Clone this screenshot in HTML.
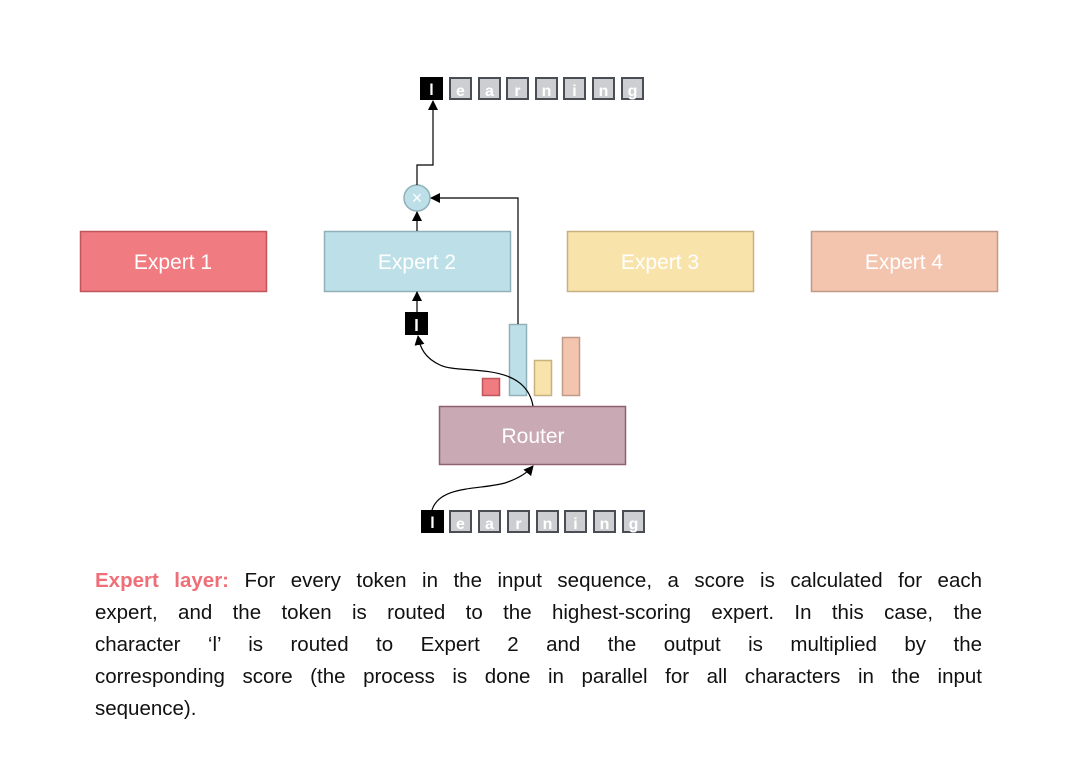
<!DOCTYPE html>
<html><head><meta charset="utf-8"><style>
body{margin:0;width:1072px;height:784px;background:#fff;position:relative;font-family:"Liberation Sans",sans-serif;overflow:hidden}
.p{position:absolute;left:95px;width:887px;font-size:20.5px;color:#111;white-space:nowrap;text-align:justify;text-align-last:justify;line-height:32px}
</style></head><body>
<svg width="1072" height="784" style="position:absolute;left:0;top:0" font-family="Liberation Sans, sans-serif">
<defs><marker id="a" markerWidth="10" markerHeight="10" refX="9" refY="5" orient="auto" markerUnits="userSpaceOnUse"><path d="M0,0 L10,5 L0,10z" fill="#000"/></marker></defs>
<rect x="80.5" y="231.5" width="186" height="60" fill="#f07b80" stroke="#c0555c" stroke-width="1.5"/>
<text x="173" y="269" text-anchor="middle" fill="#fff" font-size="21">Expert 1</text>
<rect x="324.5" y="231.5" width="186" height="60" fill="#bde0e8" stroke="#8fb0b8" stroke-width="1.5"/>
<text x="417" y="269" text-anchor="middle" fill="#fff" font-size="21">Expert 2</text>
<rect x="567.5" y="231.5" width="186" height="60" fill="#f8e4ab" stroke="#c8b080" stroke-width="1.5"/>
<text x="660" y="269" text-anchor="middle" fill="#fff" font-size="21">Expert 3</text>
<rect x="811.5" y="231.5" width="186" height="60" fill="#f3c4ae" stroke="#c09a88" stroke-width="1.5"/>
<text x="904" y="269" text-anchor="middle" fill="#fff" font-size="21">Expert 4</text>
<rect x="439.5" y="406.5" width="186" height="58" fill="#c9a9b3" stroke="#8e6070" stroke-width="1.5"/>
<text x="533" y="443" text-anchor="middle" fill="#fff" font-size="21">Router</text>
<rect x="482.5" y="378.5" width="17" height="17" fill="#f07b80" stroke="#c0555c" stroke-width="1.5"/>
<rect x="509.5" y="324.5" width="17" height="71" fill="#bde0e8" stroke="#8fb0b8" stroke-width="1.5"/>
<rect x="534.5" y="360.5" width="17" height="35" fill="#f8e4ab" stroke="#c8b080" stroke-width="1.5"/>
<rect x="562.5" y="337.5" width="17" height="58" fill="#f3c4ae" stroke="#c09a88" stroke-width="1.5"/>
<rect x="405" y="312" width="23" height="23" fill="#000"/>
<text x="416.5" y="331" text-anchor="middle" fill="#fff" font-size="17" font-weight="bold">l</text>
<circle cx="417" cy="198" r="13" fill="#bde0e8" stroke="#8fb0b8" stroke-width="1.5"/>
<text x="417" y="204" text-anchor="middle" fill="#fff" font-size="18">×</text>
<g fill="none" stroke="#000" stroke-width="1.2">
<path d="M417 185 V165 H433 V101" marker-end="url(#a)"/>
<path d="M518 324 V198 H431" marker-end="url(#a)"/>
<path d="M417 231 V212" marker-end="url(#a)"/>
<path d="M417 312 V292" marker-end="url(#a)"/>
<path d="M533 406 C525 360 460 375 440 365 C425 358 420 348 418 336" marker-end="url(#a)"/>
<path d="M432 510 C440 485 480 490 505 483 C520 478 528 472 533 466" marker-end="url(#a)"/>
</g>
<g font-size="16" font-weight="bold" text-anchor="middle">
<rect x="420" y="77" width="23" height="23" fill="#000"/><text x="431.5" y="95" fill="#fff">l</text>
<g fill="#cdced2" stroke="#4a4e54" stroke-width="2">
<rect x="450" y="78" width="21" height="21"/><rect x="479" y="78" width="21" height="21"/><rect x="507" y="78" width="21" height="21"/><rect x="536" y="78" width="21" height="21"/><rect x="564" y="78" width="21" height="21"/><rect x="593" y="78" width="21" height="21"/><rect x="622" y="78" width="21" height="21"/>
</g>
<g fill="#fff"><text x="460.5" y="96">e</text><text x="489.5" y="96">a</text><text x="517.5" y="96">r</text><text x="546.5" y="96">n</text><text x="574.5" y="96">i</text><text x="603.5" y="96">n</text><text x="632.5" y="96">g</text></g>
<rect x="421" y="510" width="23" height="23" fill="#000"/><text x="432.5" y="528" fill="#fff">l</text>
<g fill="#cdced2" stroke="#4a4e54" stroke-width="2">
<rect x="450" y="511" width="21" height="21"/><rect x="479" y="511" width="21" height="21"/><rect x="508" y="511" width="21" height="21"/><rect x="537" y="511" width="21" height="21"/><rect x="565" y="511" width="21" height="21"/><rect x="594" y="511" width="21" height="21"/><rect x="623" y="511" width="21" height="21"/>
</g>
<g fill="#fff"><text x="460.5" y="529">e</text><text x="489.5" y="529">a</text><text x="518.5" y="529">r</text><text x="547.5" y="529">n</text><text x="575.5" y="529">i</text><text x="604.5" y="529">n</text><text x="633.5" y="529">g</text></g>
</g>
</svg>
<div class="p" style="top:565px"><span style="color:#ef6f78;font-weight:bold">Expert layer:</span> For every token in the input sequence, a score is calculated for each</div>
<div class="p" style="top:597px">expert, and the token is routed to the highest-scoring expert. In this case, the</div>
<div class="p" style="top:629px">character ‘l’ is routed to Expert 2 and the output is multiplied by the</div>
<div class="p" style="top:661px">corresponding score (the process is done in parallel for all characters in the input</div>
<div class="p" style="top:693px;text-align:left;text-align-last:left">sequence).</div>
</body></html>
